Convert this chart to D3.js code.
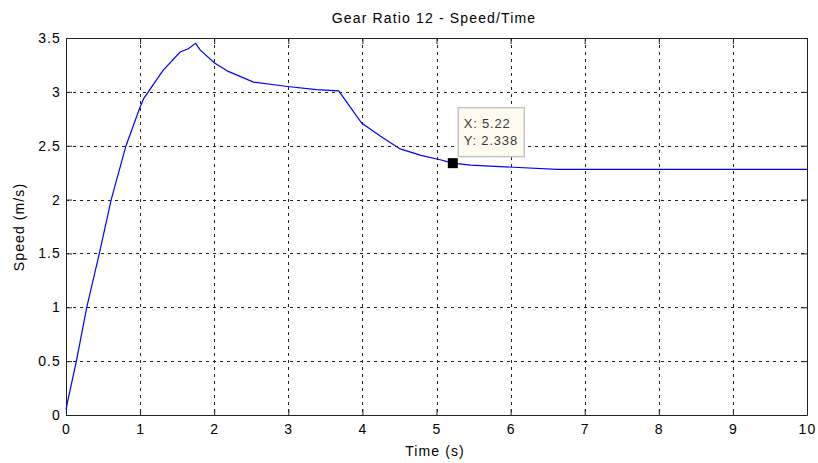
<!DOCTYPE html>
<html>
<head>
<meta charset="utf-8">
<script src="https://cdn.jsdelivr.net/npm/d3@7"></script>
<style>
  html, body { margin: 0; padding: 0; background: #fff; }
  svg { display: block; font-family: "Liberation Sans", Arial, sans-serif; }
</style>
</head>
<body>
<svg id="chart" width="818" height="463"></svg>
<script>
// Speed profile samples: time (s) and speed (m/s)
const timeS = [0, 0.02, 0.14, 0.28, 0.45, 0.61, 0.81, 1.0, 1.05, 1.31, 1.54, 1.65, 1.75, 1.81, 2.0, 2.19, 2.53, 2.99, 3.38, 3.68, 3.99, 4.24, 4.51, 4.79, 5.05, 5.22, 5.46, 6.04, 6.63, 10];
const speed = [0.05, 0.12, 0.5, 1.0, 1.5, 2.0, 2.5, 2.86, 2.94, 3.2, 3.37, 3.4, 3.45, 3.39, 3.27, 3.19, 3.09, 3.05, 3.02, 3.01, 2.71, 2.59, 2.47, 2.41, 2.37, 2.338, 2.32, 2.30, 2.28, 2.28];

const xTicks = [0, 1, 2, 3, 4, 5, 6, 7, 8, 9, 10];
const yTicks = [0, 0.5, 1, 1.5, 2, 2.5, 3, 3.5];

// Highlighted data point
const cursorX = [5.22];
const cursorY = [2.338];

const svg = d3.select("#chart");
const plotL = 66, plotR = 807, plotT = 38, plotB = 415;

const x = d3.scaleLinear().domain([0, 10]).range([plotL, plotR]);
const y = d3.scaleLinear().domain([0, 3.5]).range([plotB, plotT]);

// Grid lines
const grid = svg.append("g").attr("stroke", "#222").attr("stroke-width", 1)
  .attr("stroke-dasharray", "3,4").attr("shape-rendering", "crispEdges");
grid.selectAll("line.v").data(xTicks.slice(1, -1)).join("line").attr("class", "v")
  .attr("x1", d => Math.round(x(d)) + 0.5).attr("x2", d => Math.round(x(d)) + 0.5)
  .attr("y1", plotT).attr("y2", plotB);
grid.selectAll("line.h").data(yTicks.slice(1, -1)).join("line").attr("class", "h")
  .attr("y1", d => Math.round(y(d)) + 0.5).attr("y2", d => Math.round(y(d)) + 0.5)
  .attr("x1", plotL).attr("x2", plotR);

// Axes with inward ticks on all four sides
const fontSize = 14;
const spacing = "1.1px";
const axB = svg.append("g").attr("transform", `translate(0,${plotB})`)
  .call(d3.axisBottom(x).tickValues(xTicks).tickFormat(d3.format("d")).tickSizeInner(-6).tickSizeOuter(0).tickPadding(9));
const axT = svg.append("g").attr("transform", `translate(0,${plotT})`)
  .call(d3.axisTop(x).tickValues(xTicks).tickFormat("").tickSizeInner(-6).tickSizeOuter(0));
const axL = svg.append("g").attr("transform", `translate(${plotL},0)`)
  .call(d3.axisLeft(y).tickValues(yTicks).tickFormat(d => d).tickSizeInner(-6).tickSizeOuter(0).tickPadding(5));
const axR = svg.append("g").attr("transform", `translate(${plotR},0)`)
  .call(d3.axisRight(y).tickValues(yTicks).tickFormat("").tickSizeInner(-6).tickSizeOuter(0));
[axB, axT, axL, axR].forEach(a => {
  a.select(".domain").attr("stroke", "#222").attr("stroke-width", 1);
  a.selectAll(".tick line").attr("stroke", "#222");
  a.selectAll("text").attr("font-size", fontSize).attr("fill", "#000")
    .attr("letter-spacing", spacing)
    .attr("font-family", "'Liberation Sans', Arial, sans-serif");
});

// Speed curve
const line = d3.line().x((d, i) => x(timeS[i])).y(d => y(d));
svg.append("path").datum(speed)
  .attr("fill", "none").attr("stroke", "#0000ff").attr("stroke-width", 1.2)
  .attr("d", line);

// Data cursor marker and tooltip
const mx = x(cursorX[0]), my = y(cursorY[0]);
svg.append("rect").attr("x", mx - 5).attr("y", my - 5).attr("width", 10).attr("height", 10)
  .attr("fill", "#000");
const tip = svg.append("g");
tip.append("rect").attr("x", mx + 5.5).attr("y", my - 55.5).attr("width", 66).attr("height", 49)
  .attr("fill", "#fffaee").attr("stroke", "#c4c4c4").attr("stroke-width", 1.5);
tip.append("text").attr("x", mx + 11).attr("y", my - 35).attr("font-size", 13).attr("fill", "#3a3a3a")
  .attr("letter-spacing", "0.8px").text(`X: ${cursorX[0]}`);
tip.append("text").attr("x", mx + 11).attr("y", my - 18).attr("font-size", 13).attr("fill", "#3a3a3a")
  .attr("letter-spacing", "0.8px").text(`Y: ${cursorY[0]}`);

// Titles
svg.append("text").attr("x", 434).attr("y", 23).attr("text-anchor", "middle")
  .attr("font-size", 14).attr("letter-spacing", "1.15px").attr("fill", "#000")
  .text("Gear Ratio 12 - Speed/Time");
svg.append("text").attr("x", 435).attr("y", 456).attr("text-anchor", "middle")
  .attr("font-size", 14).attr("letter-spacing", "1.1px").attr("fill", "#000").text("Time (s)");
svg.append("text").attr("transform", `translate(24,227) rotate(-90)`)
  .attr("text-anchor", "middle").attr("font-size", 14).attr("letter-spacing", "1.1px")
  .attr("fill", "#000").text("Speed (m/s)");
</script>
</body>
</html>
